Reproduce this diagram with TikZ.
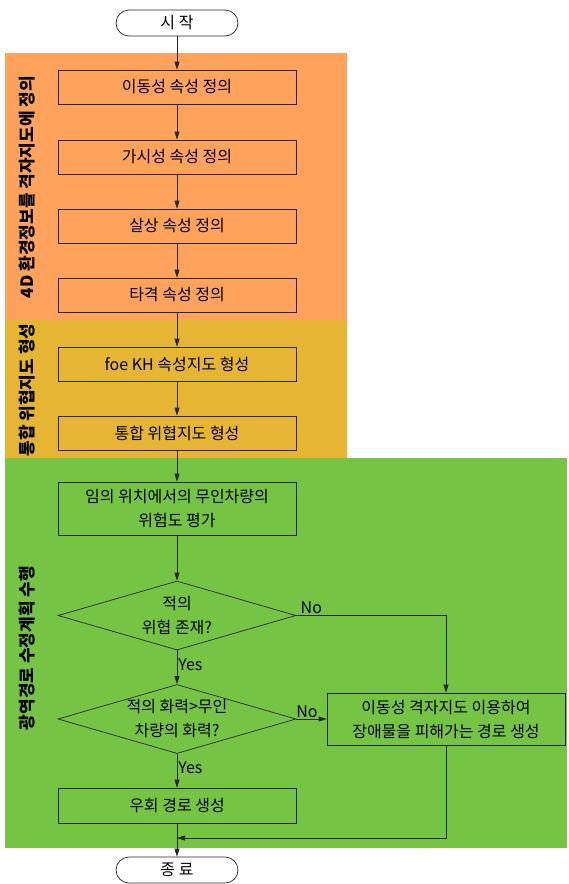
\documentclass[tikz,border=0pt]{standalone}
\usepackage{fontspec}
\setmainfont{Noto Sans CJK KR}
\usetikzlibrary{shapes.geometric,arrows.meta}
\definecolor{orangebg}{RGB}{255,163,92}
\definecolor{goldbg}{RGB}{229,181,51}
\definecolor{greenbg}{RGB}{118,196,68}
\definecolor{lineclr}{RGB}{40,40,40}
\begin{document}
\begin{tikzpicture}[x=1pt,y=-1pt,
  txt/.style={font=\fontsize{16}{24}\selectfont},
  box/.style={txt, draw=lineclr, line width=0.7pt, minimum width=238pt, minimum height=34pt, inner sep=2pt, align=center},
  term/.style={txt, draw=lineclr, line width=0.7pt, rounded corners=13pt, minimum width=122pt, minimum height=26pt, inner sep=0pt, fill=white},
  dec/.style={draw=lineclr, line width=0.7pt, diamond, aspect=3.45, minimum width=238pt, minimum height=69pt, inner sep=0pt},
  dtxt/.style={txt, align=center, inner sep=0pt},
  arr/.style={-{Triangle[length=8pt,width=5pt]}, line width=0.7pt, draw=lineclr},
  lab/.style={txt, inner sep=1pt},
  vlab/.style={rotate=90, font=\bfseries\fontsize{17}{20}\selectfont}
]
\useasboundingbox (0,0) rectangle (569,884);
% backgrounds
\fill[orangebg] (5,53) rectangle (347,320);
\fill[goldbg] (5,320) rectangle (347,458);
\fill[greenbg] (5,458) rectangle (567,848);
% side labels
\node[vlab] (L1) at (27,187) {4D 환경정보를 격자지도에 정의};
\node[vlab] (L2) at (27,390) {통합 위협지도 형성};
\node[vlab] (L3) at (27,648) {광역경로 수정계획 수행};
% nodes
\node[term] (start) at (177,23) {시 작};
\node[box] (b1) at (177,87) {이동성 속성 정의};
\node[box] (b2) at (177,157) {가시성 속성 정의};
\node[box] (b3) at (177,226) {살상 속성 정의};
\node[box] (b4) at (177,295) {타격 속성 정의};
\node[box] (b5) at (177,364) {foe KH 속성지도 형성};
\node[box] (b6) at (177,433) {통합 위협지도 형성};
\node[box, minimum height=53pt] (b7) at (177,508.5) {임의 위치에서의 무인차량의\\위험도 평가};
\node[dec] (d1) at (177,615.5) {};
\node[dtxt] (d1t) at (177,615.5) {적의\\위협 존재?};
\node[dec] (d2) at (177,719) {};
\node[dtxt] (d2t) at (177,719) {적의 화력>무인\\차량의 화력?};
\node[box, minimum height=52pt] (b8) at (446,719) {이동성 격자지도 이용하여\\장애물을 피해가는 경로 생성};
\node[box, minimum height=35pt] (b9) at (177,805.5) {우회 경로 생성};
\node[term] (end) at (177,870) {종 료};
\coordinate (c1) at (446,615.5);
\coordinate (c2) at (446,838);
\coordinate (c3) at (177,838);
% connectors
\draw[arr] (start) -- (b1);
\draw[arr] (b1) -- (b2);
\draw[arr] (b2) -- (b3);
\draw[arr] (b3) -- (b4);
\draw[arr] (b4) -- (b5);
\draw[arr] (b5) -- (b6);
\draw[arr] (b6) -- (b7);
\draw[arr] (b7) -- (d1);
\draw[arr] (d1) -- node[lab, right, pos=0.42] (y1) {Yes} (d2);
\draw[arr] (d2) -- node[lab, right, pos=0.42] (y2) {Yes} (b9);
\draw[arr] (d1.east) -- node[lab, above, pos=0.1] (n1) {No} (c1) -- (b8.north);
\draw[arr] (d2.east) -- node[lab, above, pos=0.35] (n2) {No} (b8.west);
\draw[arr] (b8.south) -- (c2) -- (c3);
\draw[arr] (b9) -- (end);
\end{tikzpicture}
\end{document}
